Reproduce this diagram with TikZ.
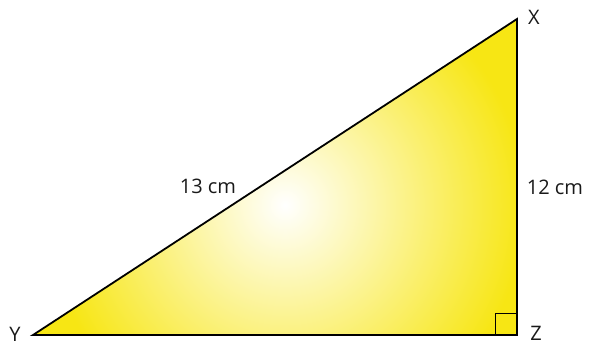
\documentclass[tikz,border=0pt]{standalone}
\usepackage{fontspec}
\setmainfont{Open Sans}
\definecolor{triyellow}{RGB}{247,230,20}
\begin{document}
\begin{tikzpicture}[x=1pt,y=-1pt,
  lbl/.style={font=\fontsize{20}{20}\selectfont, text=black!90, inner sep=0pt},
  edge/.style={line width=1.8pt, line join=miter}]
\useasboundingbox (0,0) rectangle (590,346);
\coordinate (X) at (517,19);
\coordinate (Y) at (33,335);
\coordinate (Z) at (517,335);
\begin{scope}
\clip (X) -- (Y) -- (Z) -- cycle;
\fill[triyellow] (0,0) rectangle (590,346);
\shade[inner color=white, outer color=triyellow] (285,205) circle (240);
\end{scope}
\draw[edge] (X) -- (Y) -- (Z) -- cycle;
\draw[line width=0.9pt] (495,335) -- (495,313) -- (517,313);
\node[lbl] (lx) at (534,17) {X};
\node[lbl] (ly) at (15,334) {Y};
\node[lbl] (lz) at (536,333) {Z};
\node[lbl] (l13) at (208,186) {13 cm};
\node[lbl] (l12) at (555,187) {12 cm};
\end{tikzpicture}
\end{document}
